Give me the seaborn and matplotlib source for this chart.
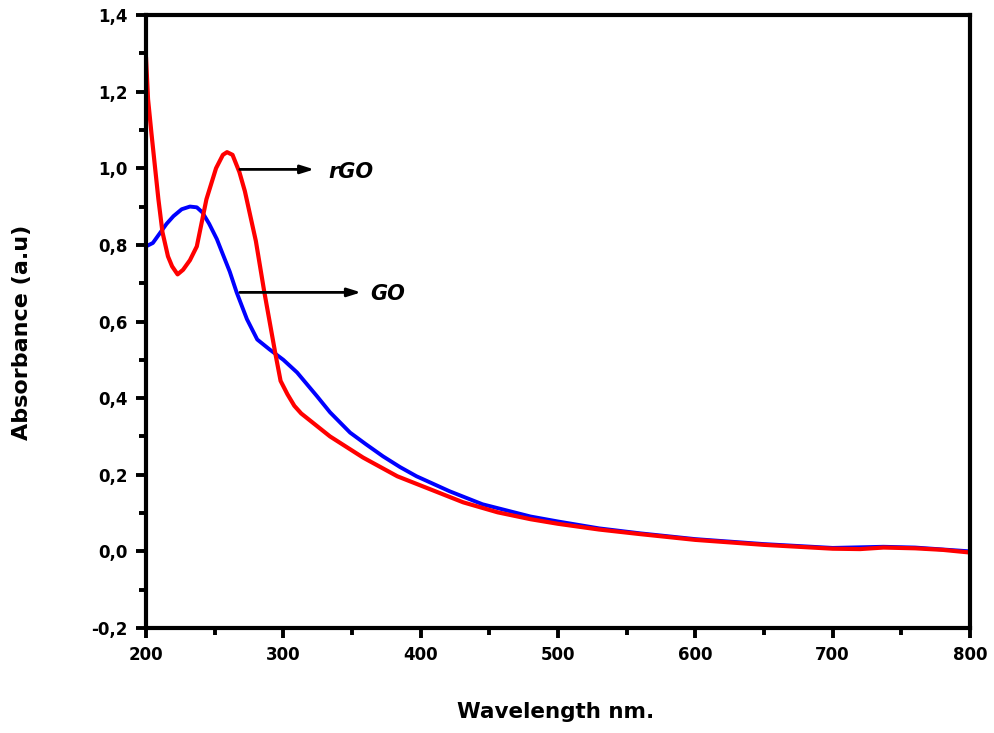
import matplotlib
matplotlib.use("Agg")
import matplotlib.pyplot as plt
import seaborn as sns
import pandas as pd
from matplotlib.ticker import MultipleLocator, FuncFormatter

# rGO (red) spectrum
rgo_wl = [200, 201.5, 204, 206.5, 209, 212, 216, 219, 223, 227, 232, 237, 244, 251, 256, 259,
          263, 268, 272, 276, 280, 283, 286, 290, 294, 298, 303, 308, 313, 320, 334, 358, 383,
          407, 431, 456, 480, 500, 530, 560, 600, 650, 700, 720, 737, 760, 780, 800]
rgo_abs = [1.29, 1.18, 1.09, 1.005, 0.92, 0.833, 0.77, 0.744, 0.723, 0.735, 0.76, 0.796, 0.919,
           1.0, 1.035, 1.042, 1.035, 0.99, 0.94, 0.875, 0.81, 0.745, 0.68, 0.60, 0.52, 0.445,
           0.41, 0.38, 0.36, 0.34, 0.30, 0.245, 0.196, 0.162, 0.128, 0.102, 0.084, 0.072, 0.057,
           0.045, 0.03, 0.017, 0.007, 0.006, 0.01, 0.008, 0.004, -0.003]

# GO (blue) spectrum
go_wl = [200, 205, 210, 215, 220, 226, 232, 237, 241, 246, 251.6, 256, 261, 266, 273.5, 281,
         290, 300, 310, 324.5, 334, 348.6, 360, 372.6, 385, 397, 421, 445, 480, 500, 530, 560,
         600, 650, 700, 737, 760, 800]
go_abs = [0.796, 0.805, 0.83, 0.855, 0.875, 0.893, 0.90, 0.898, 0.885, 0.855, 0.815, 0.775,
          0.73, 0.676, 0.606, 0.553, 0.527, 0.50, 0.467, 0.405, 0.363, 0.31, 0.28, 0.248, 0.22,
          0.196, 0.157, 0.123, 0.091, 0.078, 0.06, 0.047, 0.032, 0.019, 0.009, 0.012, 0.01, 0.0]

x_ticks = [200, 300, 400, 500, 600, 700, 800]
y_ticks = [-0.2, 0.0, 0.2, 0.4, 0.6, 0.8, 1.0, 1.2, 1.4]

sns.set_style("white")
plt.rcParams['font.family'] = ['DejaVu Sans']
plt.rcParams['text.color'] = 'black'
plt.rcParams['axes.labelcolor'] = 'black'
plt.rcParams['xtick.color'] = 'black'
plt.rcParams['ytick.color'] = 'black'

fig = plt.figure(figsize=(9.94, 7.33), dpi=100)
ax = fig.add_axes([146 / 994, 1 - 628 / 733, 824 / 994, 613 / 733])

df_go = pd.DataFrame({"wl": go_wl, "A": go_abs})
df_rgo = pd.DataFrame({"wl": rgo_wl, "A": rgo_abs})
sns.lineplot(data=df_go, x="wl", y="A", color="#0000ff", linewidth=2.8, ax=ax)
sns.lineplot(data=df_rgo, x="wl", y="A", color="#ff0000", linewidth=3.0, ax=ax)

ax.set_xlim(200, 800)
ax.set_ylim(-0.2, 1.4)
ax.set_xticks(x_ticks)
ax.set_yticks(y_ticks)
ax.xaxis.set_minor_locator(MultipleLocator(50))
ax.yaxis.set_minor_locator(MultipleLocator(0.1))
ax.yaxis.set_major_formatter(FuncFormatter(lambda v, p: f"{v:.1f}".replace(".", ",").replace("-0,0", "0,0")))

for s in ax.spines.values():
    s.set_linewidth(3)
    s.set_color("black")
ax.tick_params(which="major", direction="out", length=7, width=2.8, labelsize=12,
               top=False, right=False, bottom=True, left=True, pad=6, colors="black")
ax.tick_params(which="minor", direction="out", length=5, width=2.8,
               top=False, right=False, bottom=True, left=True, colors="black")
for lbl in ax.get_xticklabels() + ax.get_yticklabels():
    lbl.set_fontweight("bold")

ax.set_xlabel("Wavelength nm.", fontsize=15.5, fontweight="bold", color="black")
ax.set_ylabel("Absorbance (a.u)", fontsize=16, fontweight="bold", color="black")
ax.xaxis.set_label_coords(556 / 994, 1 - 712 / 733, transform=fig.transFigure)
ax.yaxis.set_label_coords(22 / 994, 1 - 332 / 733, transform=fig.transFigure)
ax.xaxis.label.set_va("center")
ax.yaxis.label.set_va("center")

arrow = dict(arrowstyle="-|>,head_length=0.8,head_width=0.25", color="black", lw=2)
ax.annotate("", xy=(324.5, 0.997), xytext=(266.3, 0.997), arrowprops=arrow)
ax.text(333, 0.99, "rGO", fontsize=15, fontweight="bold", fontstyle="italic",
        va="center", ha="left", color="black")
ax.annotate("", xy=(358.6, 0.676), xytext=(266.3, 0.676), arrowprops=arrow)
ax.text(363, 0.672, "GO", fontsize=15, fontweight="bold", fontstyle="italic",
        va="center", ha="left", color="black")

fig.savefig("out.png", dpi=100)
